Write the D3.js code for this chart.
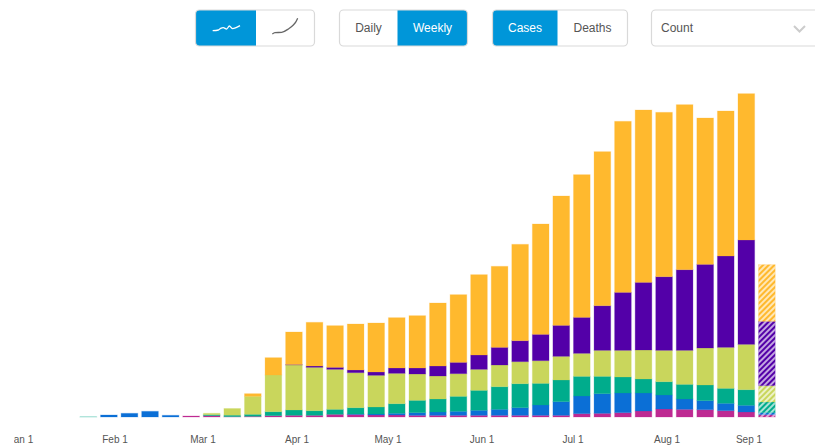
<!DOCTYPE html>
<html>
<head>
<meta charset="utf-8">
<script src="https://cdn.jsdelivr.net/npm/d3@7"></script>
<style>
html,body{margin:0;padding:0;background:#fff;overflow:hidden}
svg{display:block}
text{font-family:"Liberation Sans",Arial,sans-serif}
</style>
</head>
<body>
<svg id="chart" width="815" height="447"></svg>
<script>
// Weekly case counts, in thousands. Last week is partial (hatched).
const weeks = d3.range(34);
const magenta = [0,0,0,0,0,6,8,2,4,8,10,10,16,15,12,12,10,10,10,10,10,10,10,10,20,22,26,36,48,46,44,38,30,14];
const blue    = [0,12,22,34,10,0,0,0,0,0,0,0,0,3,6,10,16,20,24,30,36,46,62,82,106,118,118,108,84,62,54,44,40,12];
const teal    = [1,0,0,0,0,0,6,9,12,24,32,28,30,38,42,58,74,78,90,120,136,144,130,130,118,104,96,84,80,88,94,90,94,64];
const lime    = [0,0,0,0,0,0,8,40,108,220,270,260,240,210,190,182,158,138,136,126,130,132,136,142,138,156,160,174,188,204,222,246,272,98];
const purple  = [0,0,0,0,0,0,0,0,0,0,3,8,12,16,20,32,36,60,68,86,106,126,158,186,216,268,348,406,442,484,502,548,626,386];
const orange  = [0,0,0,0,0,0,0,0,16,104,195,262,250,276,294,302,314,378,406,482,486,578,662,776,856,924,1026,1034,986,990,878,870,878,340];
const partialWeek = 33;

const seriesNames  = ["magenta","blue","teal","lime","purple","orange"];
const seriesValues = [magenta,blue,teal,lime,purple,orange];
const seriesColors = ["#BE2A92","#0B6FD6","#00AC8C","#C9D65C","#5300A8","#FFB92E"];

const tickDates  = ["2020-01-01","2020-02-01","2020-03-01","2020-04-01","2020-05-01","2020-06-01","2020-07-01","2020-08-01","2020-08-28"];
const tickLabels = ["Jan 1","Feb 1","Mar 1","Apr 1","May 1","Jun 1","Jul 1","Aug 1","Sep 1"];

const buttonGroups = [
  {x:[195.5,256,314.5], labels:["",""], active:0},
  {x:[339.5,397.5,467.5], labels:["Daily","Weekly"], active:1},
  {x:[492.5,557.5,627.5], labels:["Cases","Deaths"], active:0}
];
const wiggleIcon = [[68,77],[85,75],[92,70],[100,68],[110,72],[118,63],[128,71],[138,68],[150,62]];
const curveIcon  = [[247,87],[255,83],[275,82],[295,72],[310,60],[318,50],[323,40]];

const svg = d3.select("#chart");
const accent = "#0096D9";

// scales
const x = d3.scaleBand().domain(weeks).range([80,775.2]).paddingInner(0.19).paddingOuter(0);
const y = d3.scaleLinear().domain([0,2000]).range([417,83.67]);
const parse = d3.utcParse("%Y-%m-%d");
const tx = d3.scaleUtc().domain([parse("2020-01-01"),parse("2020-08-28")]).range([20.5,748.5]);

// hatch patterns for the partial week
const defs = svg.append("defs");
seriesColors.forEach((c,i)=>{
  const p = defs.append("pattern").attr("id","hatch"+i).attr("patternUnits","userSpaceOnUse")
    .attr("width",4).attr("height",4).attr("patternTransform","rotate(45)");
  p.append("rect").attr("width",4).attr("height",4).attr("fill",c);
  p.append("rect").attr("width",2).attr("height",4).attr("fill","#fff").attr("fill-opacity",0.65);
});
defs.append("clipPath").attr("id","axisClip").append("rect")
  .attr("x",14).attr("y",420).attr("width",801).attr("height",27);

// stacked bars
const table = weeks.map(w=>{
  const o={week:w};
  seriesNames.forEach((n,i)=>o[n]=seriesValues[i][w]);
  return o;
});
const stacked = d3.stack().keys(seriesNames)(table);
svg.append("g").selectAll("g").data(stacked).join("g")
  .each(function(layer,i){
    d3.select(this).selectAll("rect")
      .data(layer.filter(d=>d[1]>d[0]))
      .join("rect")
      .attr("x",d=>x(d.data.week))
      .attr("width",x.bandwidth())
      .attr("y",d=>y(d[1]))
      .attr("height",d=>y(d[0])-y(d[1]))
      .attr("fill",d=>d.data.week===partialWeek?`url(#hatch${i})`:seriesColors[i])
      .attr("stroke",seriesColors[i])
      .attr("stroke-opacity",0.25)
      .attr("stroke-width",1);
  });

// date axis
const axis = d3.axisBottom(tx)
  .tickValues(tickDates.map(parse))
  .tickSize(0)
  .tickPadding(0)
  .tickFormat((d,i)=>tickLabels[i]);
const ax = svg.append("g").attr("clip-path","url(#axisClip)").append("g")
  .attr("transform","translate(0,436)").call(axis);
ax.select(".domain").remove();
ax.selectAll("text").attr("fill","#555").style("font-size","10px").style("font-family",'"Liberation Sans",Arial,sans-serif');

// controls
const top_=10, h_=36;
buttonGroups.forEach(g=>{
  const gr = svg.append("g");
  const [a,b,c] = g.x;
  const ax0 = g.active===0?a:b, ax1 = g.active===0?b:c;
  const clipId = "c"+Math.round(a);
  defs.append("clipPath").attr("id",clipId).append("rect")
    .attr("x",a).attr("y",top_).attr("width",c-a).attr("height",h_).attr("rx",4);
  gr.append("rect").attr("x",ax0).attr("y",top_).attr("width",ax1-ax0).attr("height",h_)
    .attr("fill",accent).attr("clip-path",`url(#${clipId})`);
  gr.append("rect").attr("x",a).attr("y",top_).attr("width",c-a).attr("height",h_).attr("rx",4)
    .attr("fill","none").attr("stroke","#d9d9d9").attr("stroke-width",1.2);
  g.labels.forEach((t,i)=>{
    if(!t) return;
    gr.append("text").attr("x",i===0?(a+b)/2:(b+c)/2).attr("y",32)
      .attr("text-anchor","middle").attr("font-size",12)
      .attr("fill",i===g.active?"#fff":"#555").text(t);
  });
});

// toggle icons, zoomed-crop coordinates mapped to the page
const ix = d3.scaleLinear().domain([0,390]).range([190,320]);
const iy = d3.scaleLinear().domain([0,135]).range([5,50]);
const iconLine = d3.line().x(d=>ix(d[0])).y(d=>iy(d[1])).curve(d3.curveMonotoneX);
svg.append("path").attr("d",iconLine(wiggleIcon)).attr("fill","none").attr("stroke","#fff").attr("stroke-width",1.3);
svg.append("path").attr("d",iconLine(curveIcon)).attr("fill","none").attr("stroke","#666").attr("stroke-width",1.3);

// select box
svg.append("rect").attr("x",651.5).attr("y",top_).attr("width",175).attr("height",h_).attr("rx",4)
  .attr("fill","#fff").attr("stroke","#d9d9d9").attr("stroke-width",1.2);
svg.append("text").attr("x",661).attr("y",32).attr("font-size",12).attr("fill","#555").text("Count");
svg.append("path").attr("d",d3.line()([[794,26],[799.5,31.5],[805,26]])).attr("fill","none")
  .attr("stroke","#ccc").attr("stroke-width",2);
</script>
</body>
</html>
